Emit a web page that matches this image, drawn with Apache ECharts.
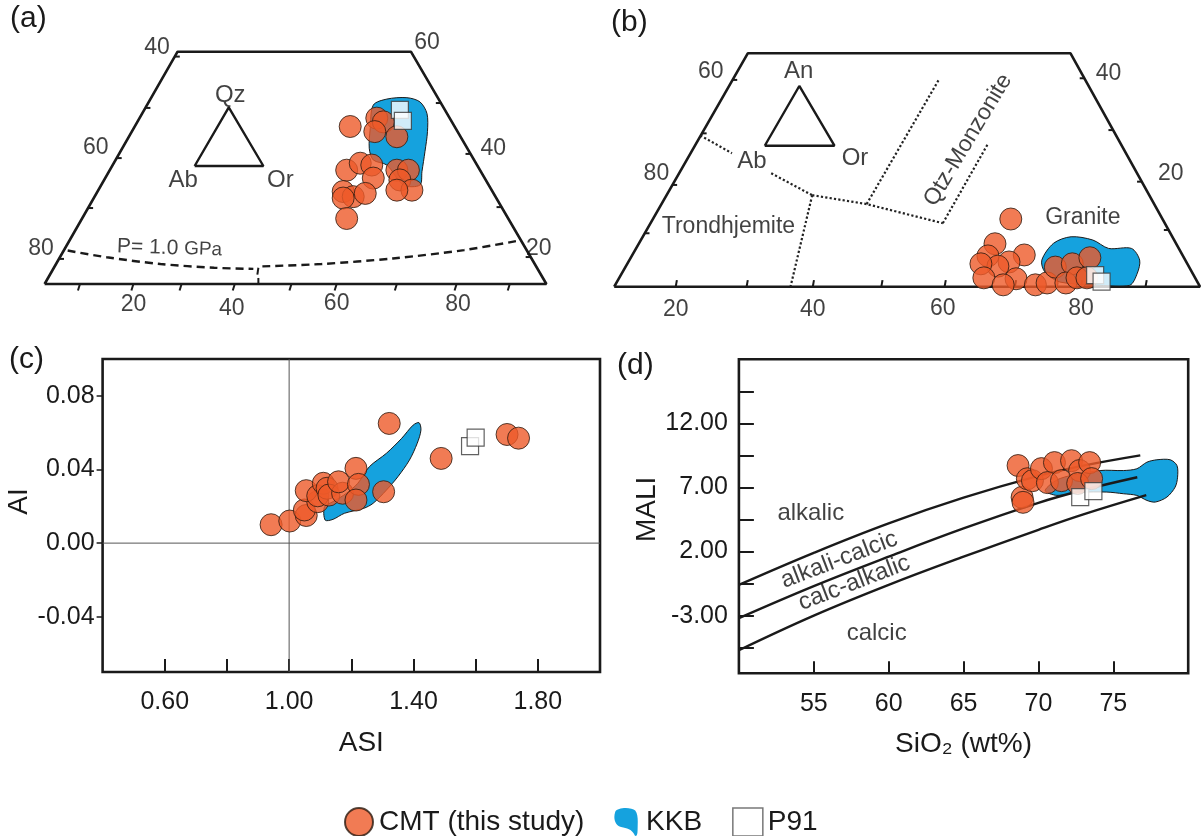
<!DOCTYPE html>
<html><head><meta charset="utf-8">
<script src="https://cdn.jsdelivr.net/npm/echarts@6/dist/echarts.min.js"></script>
<style>html,body{margin:0;padding:0;background:#fff}#c{width:1201px;height:836px}</style>
</head><body><div id="c"></div>
<script>
// ===== Panel (a): Qz-Ab-Or sketch (diagram coordinates: base 0-100, height 0-50)
const aCMT = [[60.9,33.9],[66.2,35.7],[67.5,34.9],[65.8,32.8],[70.2,31.7],[60.2,24.5],[62.9,26.0],[65.2,25.6],[65.5,22.8],[70.2,24.5],[72.5,24.5],[70.8,22.4],[73.2,20.2],[70.2,20.2],[59.5,19.9],[61.5,18.8],[63.9,19.5],[59.5,18.5],[60.2,14.1]];
const aP91 = [[70.8,37.5],[71.4,35.1]];
const aKKB = [[65.5,38.5],[68.2,39.8],[72.2,40.1],[74.8,39.2],[76.2,36.7],[76.3,32.8],[75.8,28.5],[75.2,24.2],[74.8,21.3],[71.5,21.3],[68.2,25.6],[65.5,26.7],[64.7,29.2],[64.9,33.5]];
const aFrame = [[0,0],[26.5,50],[73,50],[100,0],[0,0]];
const aInset = [[29.9,25.4],[36.7,38.0],[43.6,25.4],[29.9,25.4]];
const aPressureLeft = [[4.6,7.2],[12.4,5.75],[23.1,4.3],[33.8,3.5],[41.6,3.25]];
const aPressureRight = [[43.4,3.8],[55.2,4.3],[69.4,5.5],[83.6,7.3],[94.3,9.3]];
const aLeftTickFrac = [0.979,0.758,0.542,0.327,0.108];
const aRightTickFrac = [0.779,0.560,0.331,0.116];
const aBottomTicks = [7.05,17.7,27.3,37.9,49.2,58.2,70.2,82.1,92.7];
const aLeftTickLabels = ['40','60','80'];
const aRightTickLabels = ['60','40','20'];
const aBottomTickLabels = ['20','40','60','80'];
const aVertexLabels = ['Qz','Ab','Or'];
const aLeftLabelPos = [[22.4,50.8],[10.2,29.3],[-0.7,7.5]];
const aRightLabelPos = [[76.2,51.9],[89.4,29.1],[98.5,7.7]];
const aBottomLabelPos = [[17.7,-4.5],[37.3,-5.2],[58.2,-4.2],[82.4,-4.5]];
const aVertexLabelPos = [[37.0,40.7],[27.6,22.2],[47.0,22.2]];

// ===== Panel (b): An-Ab-Or sketch (diagram coordinates: base 0-100, height 0-50)
const bCMT = [[67.7,14.5],[65.0,9.2],[63.8,6.6],[70.0,6.8],[67.4,5.3],[65.5,4.4],[62.6,4.9],[68.6,1.7],[63.1,1.9],[66.4,0.4],[71.9,0.4],[73.9,0.8],[75.3,4.2],[78.2,4.9],[81.2,6.2],[77.1,0.8],[79.0,1.9],[80.7,1.9]];
const bP91 = [[82.1,2.5],[83.2,1.1]];
const bKKB = [[73.0,5.7],[75.0,9.3],[78.0,10.7],[81.7,10.0],[84.4,8.2],[88.3,8.2],[89.7,5.7],[89.3,2.9],[88.0,0.3],[82.9,0.3],[76.1,1.0],[73.5,3.2]];
const bFrame = [[0,0],[22.8,50],[77.9,50],[100,0],[0,0]];
const bInset = [[25.7,30.2],[31.6,43.0],[37.6,30.2],[25.7,30.2]];
const bFieldBoundaries = [
  [[14.7,32.4],[20.1,28.6]],
  [[26.8,24.3],[33.8,19.6]],
  [[33.8,19.6],[30.1,0]],
  [[33.8,19.6],[43.1,17.7],[56.1,13.6]],
  [[43.1,17.7],[55.4,44.3]],
  [[56.1,13.6],[63.7,30.4]]
];
const bLeftTickFrac = [0.886,0.657,0.436,0.229];
const bRightTickFrac = [0.893,0.671,0.450,0.243];
const bBottomTicks = [10.5,22.6,33.9,45.6,56.4,68.4,79.7,90.7];
const bLeftTickLabels = ['60','80'];
const bRightTickLabels = ['40','20'];
const bBottomTickLabels = ['20','40','60','80'];
const bFieldLabels = ['An','Ab','Or','Trondhjemite','Granite','Qtz-Monzonite'];
const bLeftLabelPos = [[16.5,46.1],[7.2,24.3]];
const bRightLabelPos = [[84.4,45.7],[95.0,24.3]];
const bBottomLabelPos = [[10.5,-4.9],[33.9,-4.9],[56.1,-4.6],[79.7,-4.6]];
const bFieldLabelPos = [[31.5,46.1],[23.5,26.8],[41.1,27.5],[19.5,12.9],[80.0,14.7],[60.4,31.4]];

// ===== Panel (c): ASI vs AI
const cCMT = [[1.322,0.065],[1.489,0.046],[1.701,0.059],[1.738,0.057],[0.942,0.010],[1.002,0.012],[1.055,0.015],[1.049,0.018],[1.092,0.0225],[1.055,0.0285],[1.092,0.0257],[1.110,0.0325],[1.122,0.0298],[1.128,0.0261],[1.172,0.0271],[1.159,0.0333],[1.215,0.0406],[1.223,0.0319],[1.215,0.0234],[1.304,0.0279]];
const cP91 = [[1.582,0.0527],[1.600,0.0573]];
const cKKB = [[1.116,0.0125],[1.114,0.0198],[1.141,0.0225],[1.184,0.0270],[1.221,0.0325],[1.258,0.0415],[1.313,0.0488],[1.362,0.0569],[1.399,0.0641],[1.418,0.0654],[1.424,0.0614],[1.412,0.0542],[1.387,0.0451],[1.350,0.0361],[1.313,0.0288],[1.270,0.0216],[1.240,0.0189],[1.178,0.0162],[1.141,0.0129]];
const cXTicks = [0.6,0.8,1.0,1.2,1.4,1.6,1.8];
const cXTickLabels = [0.6,1.0,1.4,1.8];
const cYTickLabels = [-0.04,0,0.04,0.08];

// ===== Panel (d): SiO2 vs MALI
const dCMT = [[68.64,8.71],[68.91,6.23],[68.97,5.84],[69.26,7.68],[69.60,7.53],[70.20,8.47],[71.07,8.94],[70.60,7.38],[71.54,7.53],[72.21,9.09],[72.75,8.32],[73.42,8.94],[72.62,7.31],[73.55,7.69]];
const dP91 = [[72.79,6.25],[73.67,6.72]];
const dKKB = [[70.45,6.77],[71.45,7.70],[74.12,8.32],[75.68,8.32],[76.57,8.46],[77.24,8.97],[77.91,9.16],[78.80,9.16],[79.25,8.71],[79.29,7.80],[79.13,7.03],[78.58,6.25],[77.80,5.86],[77.24,5.99],[76.57,6.38],[75.68,6.51],[74.57,6.64],[72.79,6.62],[71.23,6.38]];
const dAlkalicBoundary = [[50,-0.6],[55,1.9],[60,4.2],[65,6.2],[70,7.9],[73,8.7],[76.8,9.5]];
const dAlkaliCalcicBoundary = [[50,-3.2],[55,-0.7],[60,1.6],[65,3.8],[70,5.8],[73,6.8],[76.6,7.8]];
const dCalcAlkalicBoundary = [[50,-5.7],[55,-3.0],[60,-0.6],[65,1.6],[70,3.7],[73,4.9],[77.2,6.4]];
const dFieldLabels = ['alkalic','alkali-calcic','calc-alkalic','calcic'];
const dFieldLabelPos = [[54.8,5.0],[56.7,1.35],[57.7,-0.45],[59.2,-4.35]];
const dXTickLabels = [55,60,65,70,75];
const dYTicks = [-5.5,-3,-0.5,2,4.5,7,9.5,12,14.5];
const dYTickLabels = [-3,2,7,12];

// ===== styles
const FONT = '"Liberation Sans", Arial, Helvetica, sans-serif';
const INK = '#1a1a1a';
const ORANGE = '#EE5A29';
const BLUE = '#15A2DE';

function cmtSeries(gi, data) {
  return {name:'CMT (this study)', type:'scatter', xAxisIndex:gi, yAxisIndex:gi, data:data, symbol:'circle', symbolSize:22,
    itemStyle:{color:ORANGE, borderColor:'#2a1a10', borderWidth:1}, z:5, clip:false, silent:true};
}
function p91Series(gi, data) {
  return {name:'P91', type:'scatter', xAxisIndex:gi, yAxisIndex:gi, data:data, symbol:'rect', symbolSize:17,
    itemStyle:{color:'#ffffff', borderColor:'#3a3a3a', borderWidth:1.2}, z:6, clip:false, silent:true};
}
function kkbSeries(gi, pts) {
  return {name:'KKB', type:'custom', xAxisIndex:gi, yAxisIndex:gi, data:pts, encode:{x:0,y:1}, z:2, silent:true,
    itemStyle:{color:BLUE},
    renderItem: function (params, api) {
      if (params.dataIndex !== 0) return null;
      const points = pts.map(function (p) { return api.coord(p); });
      return {type:'polygon', shape:{points:points, smooth:0.3}, style:{fill:BLUE, stroke:INK, lineWidth:1}};
    }};
}
function lineSeries(gi, pts, style, smooth) {
  return {type:'line', xAxisIndex:gi, yAxisIndex:gi, data:pts, symbol:'none', silent:true, clip:false,
    smooth: smooth || false, lineStyle:style, z:3};
}
function textSeries(gi, texts, pos, size, extra) {
  return {type:'scatter', xAxisIndex:gi, yAxisIndex:gi, silent:true, clip:false, z:8, symbol:'circle', symbolSize:1,
    itemStyle:{color:'rgba(0,0,0,0)'},
    label:{show:true, position:'inside', formatter:'{b}', fontSize:size, color:'#111', fontFamily:FONT, textBorderWidth:0, textShadowBlur:0},
    data: texts.map(function (t, i) {
      const item = {name:t, value:pos[i]};
      if (extra && extra[i]) item.label = extra[i];
      return item;
    })};
}
function lerp(p, q, f) { return [p[0] + (q[0]-p[0])*f, p[1] + (q[1]-p[1])*f]; }
function edgeTicks(from, to, fracs, dx, dy) {
  return fracs.map(function (f) { const p = lerp(from, to, f); return [p, [p[0]+dx, p[1]+dy]]; });
}

const frameStyle = {color:INK, width:2.6};
const tickStyle = {color:INK, width:2};
const series = [];

// ---- panel (a)
series.push(kkbSeries(0, aKKB));
series.push(lineSeries(0, aFrame, frameStyle));
series.push(lineSeries(0, aInset, {color:INK, width:2.4}));
series.push(lineSeries(0, aPressureLeft, {color:INK, width:2.4, type:[8,5]}, 0.3));
series.push(lineSeries(0, aPressureRight, {color:INK, width:2.4, type:[8,5]}, 0.3));
edgeTicks(aFrame[0], aFrame[1], aLeftTickFrac, 1.0, 0).forEach(function (s) { series.push(lineSeries(0, s, tickStyle)); });
edgeTicks(aFrame[3], aFrame[2], aRightTickFrac, -1.0, 0).forEach(function (s) { series.push(lineSeries(0, s, tickStyle)); });
aBottomTicks.forEach(function (x) { series.push(lineSeries(0, [[x,0],[x-0.4,-1.4]], tickStyle)); });
series.push(lineSeries(0, [[42.6,0],[42.6,1.3]], tickStyle));
series.push(lineSeries(0, [[42.6,3.5],[42.4,2.0]], tickStyle));
series.push(cmtSeries(0, aCMT));
series.push(p91Series(0, aP91));
series.push(textSeries(0, aLeftTickLabels, aLeftLabelPos, 23));
series.push(textSeries(0, aRightTickLabels, aRightLabelPos, 23));
series.push(textSeries(0, aBottomTickLabels, aBottomLabelPos, 23));
series.push(textSeries(0, aVertexLabels, aVertexLabelPos, 24));
series.push(textSeries(0, ['P= 1.0 GPa'], [[24.9,7.7]], 21, [{rotate:-2, formatter:'{p|P= 1.0} {g|GPa}', rich:{p:{fontSize:21, fontFamily:FONT, color:'#111'}, g:{fontSize:19, fontFamily:FONT, color:'#111'}}}]));

// ---- panel (b)
series.push(kkbSeries(1, bKKB));
series.push(lineSeries(1, bFrame, frameStyle));
series.push(lineSeries(1, bInset, {color:INK, width:2.4}));
bFieldBoundaries.forEach(function (s) { series.push(lineSeries(1, s, {color:'#222', width:2.2, type:'dotted'})); });
edgeTicks(bFrame[0], bFrame[1], bLeftTickFrac, 0.8, 0).forEach(function (s) { series.push(lineSeries(1, s, tickStyle)); });
edgeTicks(bFrame[3], bFrame[2], bRightTickFrac, -0.8, 0).forEach(function (s) { series.push(lineSeries(1, s, tickStyle)); });
bBottomTicks.forEach(function (x) { series.push(lineSeries(1, [[x,0],[x+0.2,1.4]], tickStyle)); });
series.push(cmtSeries(1, bCMT));
series.push(p91Series(1, bP91));
series.push(textSeries(1, bLeftTickLabels, bLeftLabelPos, 23));
series.push(textSeries(1, bRightTickLabels, bRightLabelPos, 23));
series.push(textSeries(1, bBottomTickLabels, bBottomLabelPos, 23));
series.push(textSeries(1, bFieldLabels, bFieldLabelPos, 23, [{fontSize:24},{fontSize:24},{fontSize:24},null,null,{rotate:59}]));

// ---- panel (c)
series.push(lineSeries(2, [[1.0,-0.07],[1.0,0.10]], {color:'#555', width:1}));
series.push(lineSeries(2, [[0.4,0],[2.0,0]], {color:'#555', width:1}));
series.push(kkbSeries(2, cKKB));
series.push(cmtSeries(2, cCMT));
series.push(p91Series(2, cP91));

// ---- panel (d)
series.push(kkbSeries(3, dKKB));
series.push(lineSeries(3, dAlkalicBoundary, {color:INK, width:2.4}, 0.4));
series.push(lineSeries(3, dAlkaliCalcicBoundary, {color:INK, width:2.4}, 0.4));
series.push(lineSeries(3, dCalcAlkalicBoundary, {color:INK, width:2.4}, 0.4));
series.push(cmtSeries(3, dCMT));
series.push(p91Series(3, dP91));
series.push(textSeries(3, dFieldLabels, dFieldLabelPos, 24, [null,{rotate:21},{rotate:21},null]));

const hiddenX = function (gi) { return {gridIndex:gi, type:'value', min:0, max:100, show:false}; };
const hiddenY = function (gi) { return {gridIndex:gi, type:'value', min:0, max:50, show:false}; };
const labelStyle = {fontSize:25, color:INK, fontFamily:FONT};

const option = {
  animation:false,
  backgroundColor:'#ffffff',
  textStyle:{fontFamily:FONT},
  grid:[
    {left:44.6, top:51.7, width:501.8, height:232.3, outerBoundsMode:'none', containLabel:false},
    {left:614.2, top:53.3, width:585.8, height:233.4, outerBoundsMode:'none', containLabel:false},
    {left:102.6, top:359, width:497.4, height:313, show:true, borderColor:INK, borderWidth:2.6, outerBoundsMode:'none', containLabel:false},
    {left:738.9, top:359.3, width:449.3, height:314, show:true, borderColor:INK, borderWidth:2.6, outerBoundsMode:'none', containLabel:false}
  ],
  xAxis:[
    hiddenX(0), hiddenX(1),
    {gridIndex:2, type:'value', position:'bottom', min:0.4, max:2.0, axisLine:{show:false, onZero:false}, splitLine:{show:false},
      axisTick:{show:true, inside:true, length:13, lineStyle:{color:INK, width:2}, customValues:cXTicks},
      axisLabel:Object.assign({margin:18, customValues:cXTickLabels, formatter:function (v) { return v.toFixed(2); }}, labelStyle),
      name:'ASI', nameLocation:'middle', nameGap:57, nameTextStyle:{fontSize:28, color:INK, fontFamily:FONT, padding:[0,0,0,20]}},
    {gridIndex:3, type:'value', position:'bottom', min:50, max:80, axisLine:{show:false, onZero:false}, splitLine:{show:false},
      axisTick:{show:true, inside:true, length:12, lineStyle:{color:INK, width:2}, customValues:dXTickLabels},
      axisLabel:Object.assign({margin:18, customValues:dXTickLabels, formatter:function (v) { return String(v); }}, labelStyle),
      name:'SiO\u2082 (wt%)', nameLocation:'middle', nameGap:57, nameTextStyle:{fontSize:28, color:INK, fontFamily:FONT}}
  ],
  yAxis:[
    hiddenY(0), hiddenY(1),
    {gridIndex:2, type:'value', position:'left', min:-0.07, max:0.10, axisLine:{show:false, onZero:false}, splitLine:{show:false},
      axisTick:{show:true, inside:false, length:6, lineStyle:{color:INK, width:1.5}, customValues:cYTickLabels},
      axisLabel:Object.assign({margin:8, customValues:cYTickLabels, formatter:function (v) { return v.toFixed(2); }}, labelStyle),
      name:'AI', nameLocation:'middle', nameGap:65, nameTextStyle:{fontSize:28, color:INK, fontFamily:FONT, padding:[0,0,0,28]}},
    {gridIndex:3, type:'value', position:'left', min:-7.5, max:17, axisLine:{show:false, onZero:false}, splitLine:{show:false},
      axisTick:{show:true, inside:true, length:15, lineStyle:{color:INK, width:2}, customValues:dYTicks},
      axisLabel:Object.assign({margin:11, customValues:dYTickLabels, formatter:function (v) { return v.toFixed(2); }}, labelStyle),
      name:'MALI', nameLocation:'middle', nameGap:77, nameTextStyle:{fontSize:28, color:INK, fontFamily:FONT, padding:[0,0,0,14]}}
  ],
  legend:{
    left:339, top:802, itemWidth:30, itemHeight:28, itemGap:30, selectedMode:false,
    textStyle:{fontSize:28, color:INK, fontFamily:FONT},
    data:[
      {name:'CMT (this study)', icon:'circle'},
      {name:'KKB', icon:'path://M3,4 C5,0 17,0 20,3 C23,7 22,14 22,20 C22,25 20,26 19,23 C17,19 13,18 8,17 C3,16 1,10 3,4 Z'},
      {name:'P91', icon:'rect', itemStyle:{color:'#ffffff', borderColor:'#555', borderWidth:1.5}}
    ]
  },
  graphic:[
    {type:'text', left:10, top:4, style:{text:'(a)', fontSize:30, fontFamily:FONT, fill:INK}},
    {type:'text', left:611, top:8, style:{text:'(b)', fontSize:30, fontFamily:FONT, fill:INK}},
    {type:'text', left:9, top:345, style:{text:'(c)', fontSize:30, fontFamily:FONT, fill:INK}},
    {type:'text', left:617, top:351, style:{text:'(d)', fontSize:30, fontFamily:FONT, fill:INK}}
  ],
  series:series
};
const chart = echarts.init(document.getElementById('c'), null, {renderer:'canvas'});
chart.setOption(option);
</script>
</body></html>
